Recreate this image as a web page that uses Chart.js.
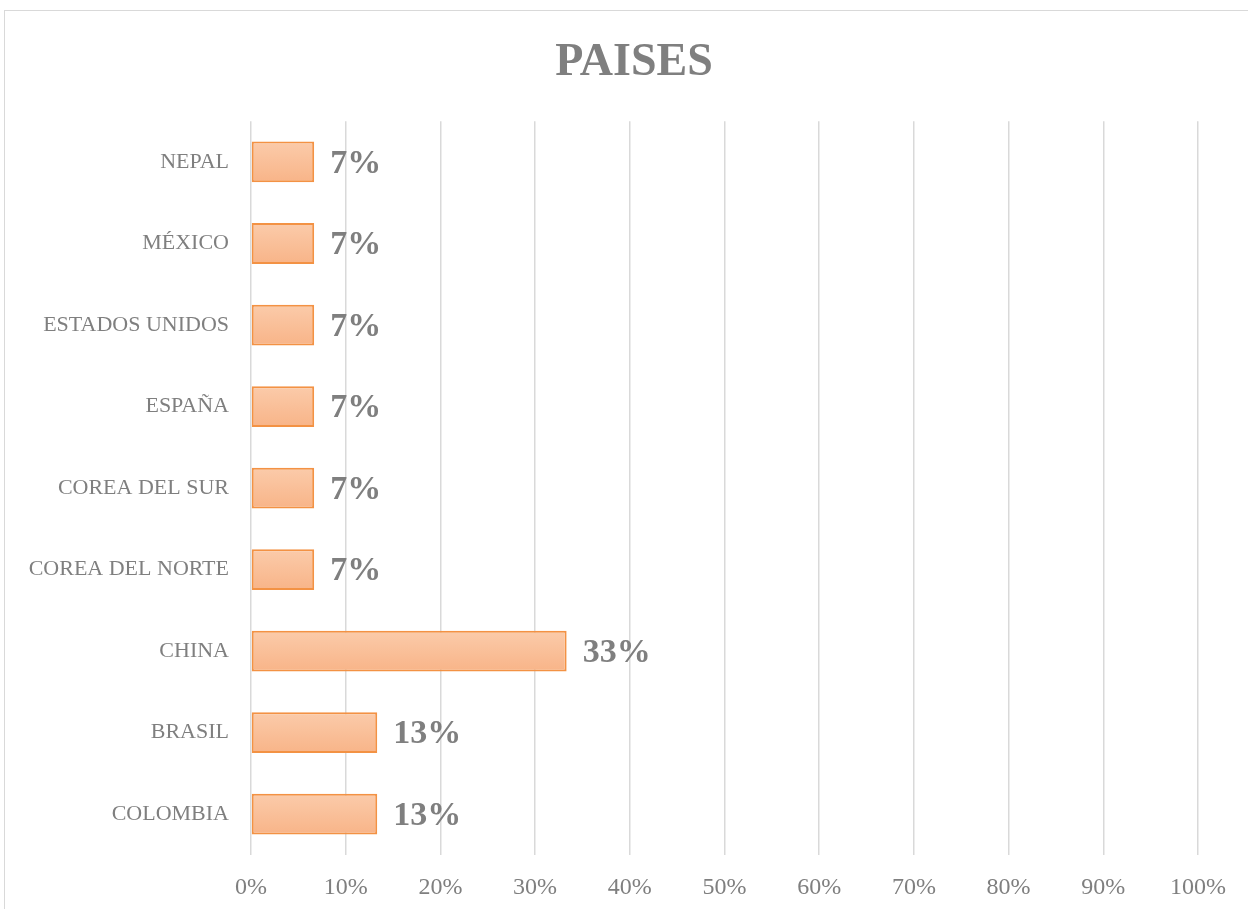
<!DOCTYPE html>
<html>
<head>
<meta charset="utf-8">
<script src="https://cdn.jsdelivr.net/npm/chart.js@4"></script>
<style>
  body { margin: 0; background: #fff; overflow: hidden; }
  #frame { position: absolute; left: 4px; top: 10px; width: 1275px; height: 920px; border: 1px solid #d9d9d9; }
  #wrap { position: absolute; left: 0; top: 0; width: 1258px; height: 898px; }
</style>
</head>
<body>
<div id="frame"><div id="wrap"><canvas id="chart"></canvas></div></div>
<script>
const paises = ["NEPAL", "MÉXICO", "ESTADOS UNIDOS", "ESPAÑA", "COREA DEL SUR", "COREA DEL NORTE", "CHINA", "BRASIL", "COLOMBIA"];
const porcentajes = [6.67, 6.67, 6.67, 6.67, 6.67, 6.67, 33.33, 13.33, 13.33];
const etiquetas = ["7%", "7%", "7%", "7%", "7%", "7%", "33%", "13%", "13%"];

const gris = "#7f7f7f";

function barFill(context) {
	const chart = context.chart;
	const y = chart.scales.y;
	if (!chart.chartArea || !y) return "#f9c09a";
	const centre = y.getPixelForTick(context.dataIndex);
	const half = (y.height / paises.length) * 0.25;
	const g = chart.ctx.createLinearGradient(0, centre - half, 0, centre + half);
	g.addColorStop(0, "#fbcbaa");
	g.addColorStop(1, "#f8b488");
	return g;
}

const labelPlugin = {
	id: "labels",
	afterDatasetsDraw(chart) {
		const ctx = chart.ctx;
		const meta = chart.getDatasetMeta(0);
		ctx.save();
		ctx.font = "bold 34px 'Liberation Serif'";
		ctx.fillStyle = gris;
		ctx.textBaseline = "middle";
		meta.data.forEach(function (bar, i) {
			ctx.fillText(etiquetas[i], bar.x + 16, bar.y + 2);
		});
		ctx.restore();
	}
};

new Chart(document.getElementById("chart"), {
	type: "bar",
	data: {
		labels: paises,
		datasets: [{
			data: porcentajes,
			backgroundColor: barFill,
			borderColor: "#f39244",
			borderWidth: 2,
			borderSkipped: false,
			barPercentage: 0.5,
			categoryPercentage: 1
		}]
	},
	options: {
		indexAxis: "y",
		responsive: true,
		maintainAspectRatio: false,
		animation: false,
		layout: { padding: 0 },
		plugins: {
			legend: { display: false },
			tooltip: { enabled: false },
			title: {
				display: true,
				text: "PAISES",
				color: gris,
				font: { family: "Liberation Serif", size: 46, weight: "bold" },
				padding: { top: 25, bottom: 30 }
			}
		},
		scales: {
			x: {
				min: 0,
				max: 100,
				ticks: {
					stepSize: 10,
					color: gris,
					padding: 18,
					font: { family: "Liberation Serif", size: 24 },
					callback: function (v) { return v + "%"; }
				},
				grid: { color: "#d9d9d9", lineWidth: 1.5, drawTicks: false },
				border: { display: false },
				afterFit: function (s) { s.height = 54; }
			},
			y: {
				ticks: {
					color: gris,
					padding: 22,
					font: { family: "Liberation Serif", size: 22 }
				},
				grid: { display: false, drawTicks: false },
				border: { display: false },
				afterFit: function (s) { s.width = 246; }
			},
			margen: {
				axis: "y",
				type: "category",
				position: "right",
				ticks: { display: false },
				grid: { display: false, drawTicks: false },
				border: { display: false },
				afterFit: function (s) { s.width = 65; }
			}
		}
	},
	plugins: [labelPlugin]
});
</script>
</body>
</html>
